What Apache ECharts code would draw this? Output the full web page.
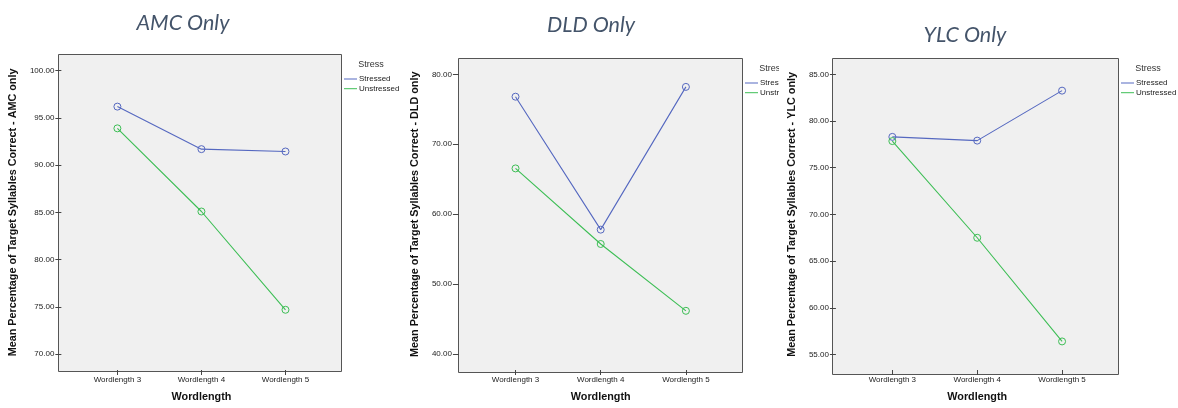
<!DOCTYPE html>
<html>
<head>
<meta charset="utf-8">
<script src="https://cdn.jsdelivr.net/npm/echarts@6/dist/echarts.min.js"></script>
<style>
  html, body { margin: 0; padding: 0; background: #ffffff; }
  #wrap { position: relative; width: 1178px; height: 408px; overflow: hidden; background: #ffffff; }
  .panel { position: absolute; top: 0; height: 408px; overflow: hidden; }
</style>
</head>
<body>
<div id="wrap">
  <div id="p1" class="panel" style="left:0px;width:402px"></div>
  <div id="p2" class="panel" style="left:402px;width:377px"></div>
  <div id="p3" class="panel" style="left:779px;width:399px"></div>
</div>
<script>
// Shared categories and legend entries
const categories = ['Wordlength 3', 'Wordlength 4', 'Wordlength 5'];
const seriesNames = ['Stressed', 'Unstressed'];
const seriesColors = ['#5568C0', '#3DBE55'];

// Mean percentage of target syllables correct, per group
const amcStressed   = [96.2, 91.7, 91.45];
const amcUnstressed = [93.9, 85.1, 74.7];
const dldStressed   = [76.8, 57.8, 78.2];
const dldUnstressed = [66.55, 55.75, 46.2];
const ylcStressed   = [78.3, 77.9, 83.25];
const ylcUnstressed = [77.85, 67.5, 56.4];

// Panel texts
const panelTitles = ['AMC Only', 'DLD Only', 'YLC Only'];
const yAxisTitles = [
  'Mean Percentage of Target Syllables Correct - AMC only',
  'Mean Percentage of Target Syllables Correct - DLD only',
  'Mean Percentage of Target Syllables Correct - YLC only'
];
const xAxisTitle = 'Wordlength';
const legendTitle = 'Stress';

// Value axis tick ranges: [min, max, step]
const yTickRanges = [[70, 100, 5], [40, 80, 10], [55, 85, 5]];

// Page layout of each panel (pixels in the 1178x408 page)
const layouts = [
  { id: 'p1', left: 0,   frame: [58.5, 54.5, 341.5, 371.5],  plotTop: 70.7, plotBottom: 355.7, yTitleX: 17.5,  titleXY: [183, 23] },
  { id: 'p2', left: 402, frame: [458.5, 58.5, 742.5, 372.5], plotTop: 74.3, plotBottom: 356.7, yTitleX: 421.7, titleXY: [591, 25.5] },
  { id: 'p3', left: 779, frame: [832.5, 58.5, 1118.5, 374.5], plotTop: 74.3, plotBottom: 359,  yTitleX: 795,   titleXY: [965, 35] }
];
const panelData = [
  [amcStressed, amcUnstressed],
  [dldStressed, dldUnstressed],
  [ylcStressed, ylcUnstressed]
];

const FONT = '"Liberation Sans", Arial, sans-serif';
const INSET = 14;          // horizontal gap between frame and first/last category band
const AXIS_FONT = 10.8;

function buildOption(i) {
  const L = layouts[i];
  const [fl, ft, fr, fb] = L.frame;
  const gridLeft = fl + INSET;
  const gridRight = fr - INSET;
  const [ymin, ymax, ystep] = yTickRanges[i];

  const series = seriesNames.map((name, k) => ({
    type: 'line',
    name: name,
    data: panelData[i][k],
    symbol: 'circle',
    symbolSize: 7,
    showSymbol: true,
    z: 3,
    lineStyle: { color: seriesColors[k], width: 1.1 },
    itemStyle: { color: 'rgba(0,0,0,0)', borderColor: seriesColors[k], borderWidth: 1 },
    emphasis: { disabled: true },
    animation: false
  }));

  return {
    animation: false,
    grid: {
      left: gridLeft - L.left,
      top: L.plotTop,
      width: gridRight - gridLeft,
      height: L.plotBottom - L.plotTop,
      containLabel: false
    },
    xAxis: {
      type: 'category',
      data: categories,
      boundaryGap: true,
      position: 'bottom',
      offset: fb - L.plotBottom,
      axisLine: { show: false },
      axisTick: { show: true, alignWithLabel: true, length: 5, lineStyle: { color: '#444', width: 1 } },
      axisLabel: { margin: 5.5, fontSize: 8, fontFamily: FONT, color: '#222' },
      splitLine: { show: false },
      name: xAxisTitle,
      nameLocation: 'middle',
      nameGap: 22,
      nameTextStyle: { fontSize: AXIS_FONT, fontWeight: 'bold', fontFamily: FONT, color: '#111' }
    },
    yAxis: {
      type: 'value',
      min: ymin,
      max: ymax,
      interval: ystep,
      position: 'left',
      offset: gridLeft - fl,
      axisLine: { show: false },
      axisTick: { show: true, length: 6, lineStyle: { color: '#444', width: 1 } },
      axisLabel: { margin: 7, fontSize: 8, fontFamily: FONT, color: '#222',
                   formatter: v => v.toFixed(2) },
      splitLine: { show: false },
      name: yAxisTitles[i],
      nameLocation: 'middle',
      nameGap: fl - L.yTitleX - AXIS_FONT / 2,
      nameTextStyle: { fontSize: AXIS_FONT, fontWeight: 'bold', fontFamily: FONT, color: '#111' }
    },
    legend: {
      orient: 'vertical',
      left: fr + 2.5 - L.left,
      top: ft + 20.5,
      itemWidth: 13,
      itemHeight: 1,
      itemGap: 1.7,
      icon: 'rect',
      selectedMode: false,
      padding: 0,
      data: seriesNames.map((n, k) => ({ name: n, itemStyle: { color: seriesColors[k], borderWidth: 0 } })),
      textStyle: { fontSize: 8, fontFamily: FONT, color: '#222', padding: [0, 0, 0, -3] }
    },
    graphic: [
      {
        type: 'rect',
        z: -1,
        shape: { x: fl - L.left, y: ft, width: fr - fl, height: fb - ft },
        style: { fill: '#F0F0F0', stroke: '#555555', lineWidth: 1 },
        silent: true
      },
      {
        type: 'text',
        x: L.titleXY[0] - L.left,
        y: L.titleXY[1],
        silent: true,
        style: {
          text: panelTitles[i],
          fill: '#44546A',
          fontSize: 21.5,
          fontStyle: 'italic',
          fontFamily: 'Lato, "Open Sans", sans-serif',
          align: 'center',
          verticalAlign: 'middle'
        }
      },
      {
        type: 'text',
        x: fr + 16.8 - L.left,
        y: ft + 10,
        silent: true,
        style: {
          text: legendTitle,
          fill: '#333',
          fontSize: 9,
          fontFamily: FONT,
          align: 'left',
          verticalAlign: 'middle'
        }
      }
    ],
    series: series
  };
}

layouts.forEach((L, i) => {
  const chart = echarts.init(document.getElementById(L.id), null, { renderer: 'canvas' });
  chart.setOption(buildOption(i));
});
</script>
</body>
</html>
